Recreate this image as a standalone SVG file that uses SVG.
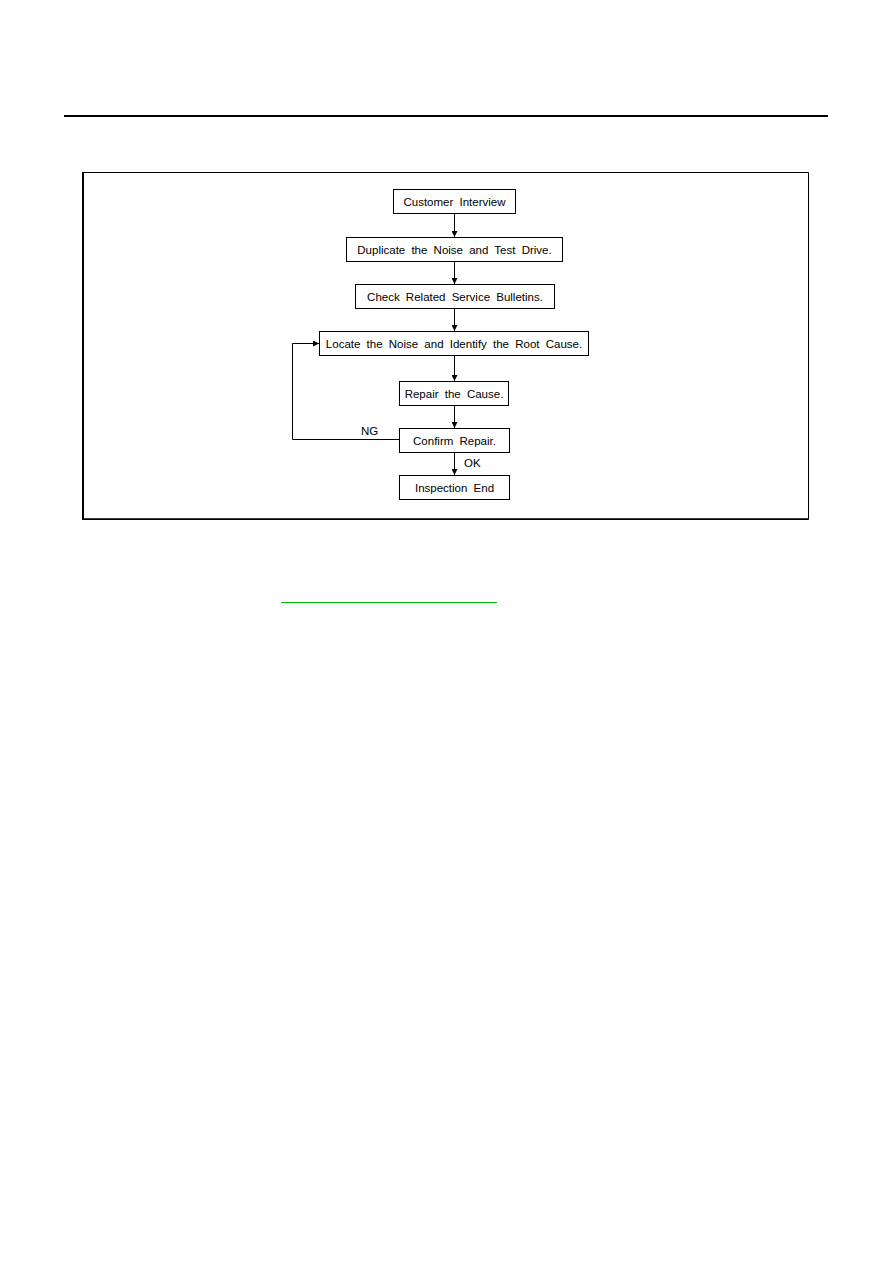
<svg xmlns="http://www.w3.org/2000/svg" width="893" height="1263" viewBox="0 0 893 1263">
<defs>
<style>
.box{fill:#fff;stroke:#000;stroke-width:1}
.t{font-family:"Liberation Sans",Arial,sans-serif;font-size:11.5px;word-spacing:3px;fill:#000;text-anchor:middle}
.lbl{font-family:"Liberation Sans",Arial,sans-serif;font-size:11.5px;fill:#000}
.ln{fill:none;stroke:#000;stroke-width:1}
</style>
<marker id="ah" viewBox="0 0 6 6" refX="6" refY="3" markerWidth="6" markerHeight="6" markerUnits="userSpaceOnUse" orient="auto">
<path d="M0,0 L6,3 L0,6 Z" fill="#000"/>
</marker>
</defs>
<rect width="893" height="1263" fill="#fff"/>
<line x1="64" y1="116" x2="828" y2="116" stroke="#000" stroke-width="2"/>
<path d="M82.5,172.5 H808.5 V519.5 H82.5 Z" fill="none" stroke="#000" stroke-width="1"/>
<line x1="83" y1="172" x2="83" y2="520" stroke="#000" stroke-width="2"/>
<line x1="83" y1="519" x2="808" y2="519" stroke="#000" stroke-width="1.5"/>
<line x1="281" y1="602.5" x2="497" y2="602.5" stroke="#00c000" stroke-width="1"/>
<g id="connectors">
<line class="ln" x1="454.5" y1="213" x2="454.5" y2="237" marker-end="url(#ah)"/>
<line class="ln" x1="454.5" y1="261" x2="454.5" y2="284" marker-end="url(#ah)"/>
<line class="ln" x1="454.5" y1="308" x2="454.5" y2="331" marker-end="url(#ah)"/>
<line class="ln" x1="454.5" y1="355" x2="454.5" y2="381" marker-end="url(#ah)"/>
<line class="ln" x1="454.5" y1="405" x2="454.5" y2="428" marker-end="url(#ah)"/>
<line class="ln" x1="454.5" y1="452" x2="454.5" y2="475" marker-end="url(#ah)"/>
<path class="ln" d="M399,439.5 H292.5 V343.5 H319" marker-end="url(#ah)"/>
<text class="lbl" x="361" y="435">NG</text>
<text class="lbl" x="464" y="467">OK</text>
</g>
<g id="n1"><rect class="box" x="393.5" y="189.5" width="122" height="24"/><text class="t" x="454.5" y="205.5">Customer Interview</text></g>
<g id="n2"><rect class="box" x="346.5" y="237.5" width="216" height="24"/><text class="t" x="454.5" y="253.5">Duplicate the Noise and Test Drive.</text></g>
<g id="n3"><rect class="box" x="355.5" y="284.5" width="199" height="24"/><text class="t" x="455" y="300.5">Check Related Service Bulletins.</text></g>
<g id="n4"><rect class="box" x="319.5" y="331.5" width="269" height="24"/><text class="t" x="454" y="347.5">Locate the Noise and Identify the Root Cause.</text></g>
<g id="n5"><rect class="box" x="399.5" y="381.5" width="109" height="24"/><text class="t" x="454" y="397.5">Repair the Cause.</text></g>
<g id="n6"><rect class="box" x="399.5" y="428.5" width="110" height="24"/><text class="t" x="454.5" y="444.5">Confirm Repair.</text></g>
<g id="n7"><rect class="box" x="399.5" y="475.5" width="110" height="24"/><text class="t" x="454.5" y="491.5">Inspection End</text></g>
</svg>
